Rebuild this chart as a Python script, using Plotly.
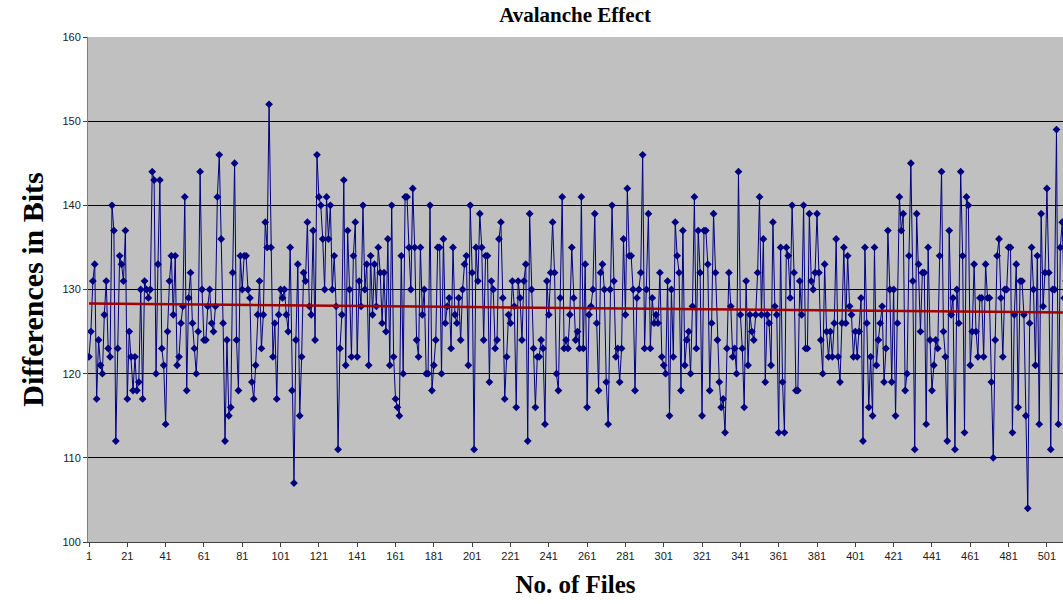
import numpy as np
import plotly.graph_objects as go

# Values (differences in bits per file)
seg01 = [122,125,131,133,117,124,121,120,127,131,123,122,140,137,112,123,134,133,131,137,
         117,125,122,118,122,118,119,130,117,131,130,129,130,144,143,120,133,143,123,121]
seg02 = [114,125,131,134,127,134,121,122,126,128,141,118,129,132,126,123,120,125,144,130,
         124,124,128,130,126,125,128,141,146,136,126,112,124,115,116,132,145,124,118,134,130,134]
seg03 = [134,130,129,119,117,121,127,131,123,127,138,135,152,135,122,126,117,127,130,129,
         130,127,125,135,118,107,124,133,115,122,132,131,138,128,127,137,124,146,141,140,136,130]
seg04 = [141,136,140,130,134,128,111,123,127,143,121,137,130,122,134,138,122,131,128,140,
         130,133,121,134,127,133,128,135,132,126,132,125,136,121,140,122,117,116,115,134,120,141]
seg05 = [141,135,130,142,135,124,122,135,127,130,120,120,140,118,121,124,135,135,120,136,
         126,128,129,123,135,127,126,129,124,130,133,134,121,140,132,111,135,131,139,135,124,134]
seg06 = [134,119,131,130,123,124,136,138,129,117,122,127,126,131,128,116,131,129,124,131,
         133,112,139,130,123,116,122,122,124,123,114,131,127,132,138,132,120,118,129,141,123,124]
seg07 = [123,127,135,129,124,125,123,141,123,133,116,127,128,130,139,126,118,132,133,130,
         119,114,130,140,131,122,123,119,123,136,127,142,134,134,130,118,129,130,132,146,123]
seg08 = [130,139,123,129,126,127,126,132,122,121,120,131,115,130,122,138,134,132,118,137,
         121,124,125,120,128,141,123,137,132,115,137,137,133,118,126,139,132,124,119,116,117,113]
seg09 = [123,132,128,122,123,120,144,127,123,116,131,121,127,125,124,127,132,141,127,136,
         119,127,126,121,138,128,127,113,135,119,113,135,134,129,140,132,118,118,131,127,140,123]
seg10 = [123,139,131,130,132,139,132,124,120,133,125,122,125,122,126,136,122,119,126,135,
         126,134,128,127,122,125,122,125,129,112,135,126,116,122,115,135,121,124,126,128,119,123]
seg11 = [137,130,119,130,115,126,141,137,139,118,120,134,145,131,111,139,133,125,132,132,
         114,135,124,118,121,124,123,134,144,125,122,112,137,127,129,111,130,126,144,134,113]
seg12 = [141,140,121,125,133,125,122,129,129,122,133,129,129,119,110,124,134,136,129,122,
         130,130,135,135,113,127,133,116,131,131,127,115,104,126,135,130,121,134,114,139,
         128,132,142,132,111,130,130,149,114,135,138,129,131,124]

differences = (seg01 + seg02 + seg03 + seg04 + seg05 + seg06 + seg07 + seg08 +
               seg09 + seg10 + seg11 + seg12)
files = list(range(1, len(differences) + 1))
x_tick_vals = list(range(1, 502, 20))
x_tick_text = [str(v) for v in x_tick_vals]
y_tick_vals = [100, 110, 120, 130, 140, 150, 160]

# Linear trend line (least squares fit of the data)
coef = np.polyfit(files, differences, 1)
trend = np.polyval(coef, files)

fig = go.Figure()
fig.add_trace(go.Scatter(
    x=files, y=differences, mode="lines+markers",
    line=dict(color="#000080", width=1),
    marker=dict(symbol="diamond", size=6, color="#000080"),
    showlegend=False, cliponaxis=True,
))
fig.add_trace(go.Scatter(
    x=files, y=trend, mode="lines",
    line=dict(color="#A00000", width=2.5),
    showlegend=False,
))

serif = "Liberation Serif, Times New Roman, serif"
sans = "Liberation Sans, Arial, sans-serif"

fig.update_layout(
    width=1063, height=604,
    margin=dict(l=88, r=0, t=37, b=62),
    paper_bgcolor="white",
    plot_bgcolor="#C0C0C0",
    title=dict(text="<b>Avalanche Effect</b>", x=0.541, xanchor="center",
               y=1 - 15 / 604, yanchor="middle",
               font=dict(family=serif, size=21, color="black")),
    xaxis=dict(
        range=[0.48, 509.4], tickvals=x_tick_vals, ticktext=x_tick_text,
        showgrid=False, zeroline=False,
        showline=True, linecolor="#404040", linewidth=1,
        ticks="outside", ticklen=4, tickcolor="#404040",
        tickfont=dict(family=sans, size=11, color="#202020"),
        title=dict(text="<b>No. of Files</b>", standoff=14,
                   font=dict(family=serif, size=25, color="black")),
    ),
    yaxis=dict(
        range=[100, 160], tickvals=y_tick_vals,
        showgrid=True, gridcolor="#000000", gridwidth=1,
        zeroline=False,
        showline=True, linecolor="#808080", linewidth=1,
        ticks="outside", ticklen=4, tickcolor="#404040",
        tickfont=dict(family=sans, size=11, color="#202020"),
        title=dict(text="<b>Differences in Bits</b>", standoff=9,
                   font=dict(family=serif, size=30, color="black")),
    ),
)

fig.write_html("out.html",
               config={"displayModeBar": False},
               post_script="document.body.style.margin='0';document.body.style.overflow='hidden';")
